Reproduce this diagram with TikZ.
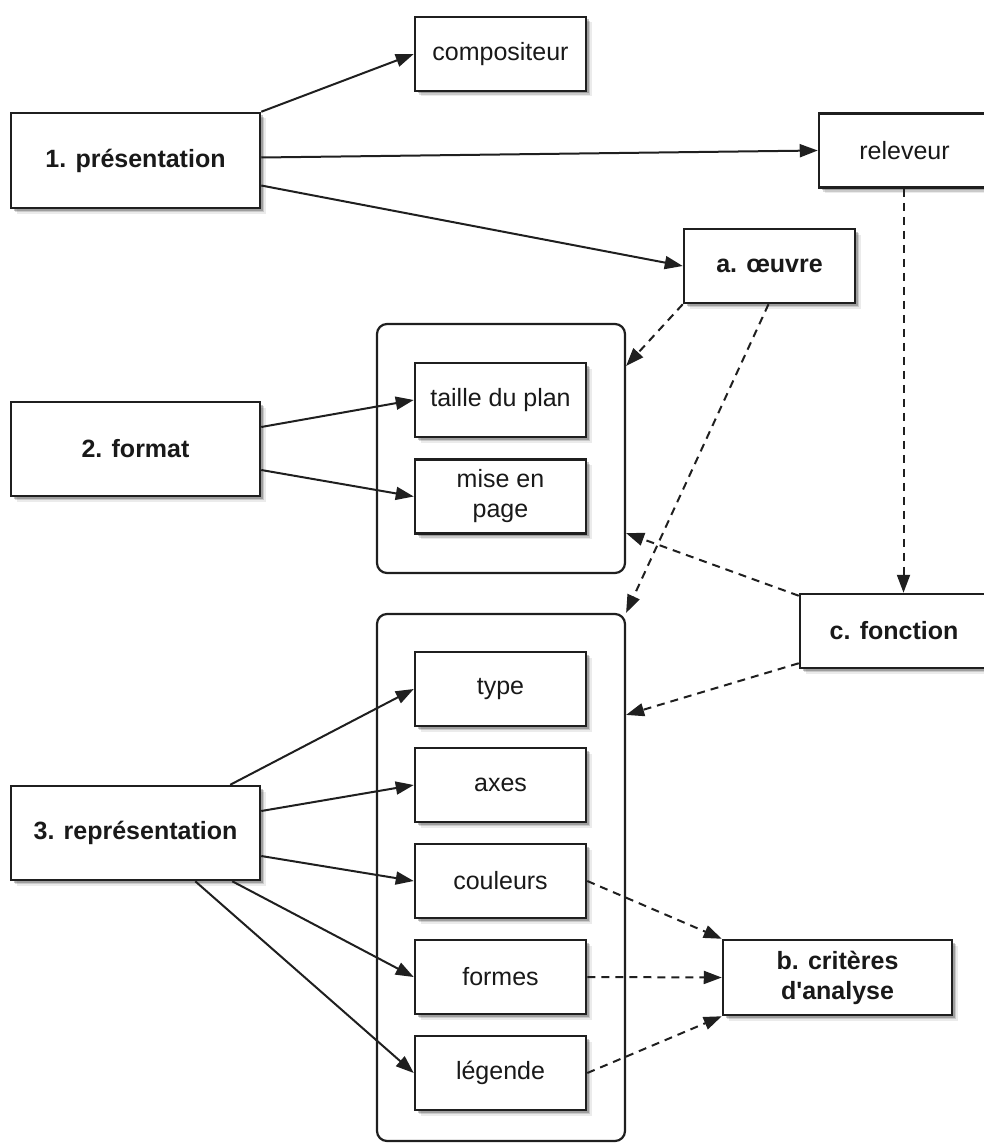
\documentclass[tikz,border=0pt]{standalone}
\usepackage{fontspec}
\setmainfont{Liberation Sans}
\usetikzlibrary{arrows.meta,shadows,calc}
\begin{document}
\begin{tikzpicture}[x=1pt,y=-1pt,
  font=\fontsize{25}{30}\selectfont,
  box/.style={draw=black!88, line width=2.5pt, fill=white, minimum width=171pt, minimum height=74pt,
    inner sep=0pt, align=center, text=black!90,
    drop shadow={shadow xshift=5.5pt, shadow yshift=-5.5pt, fill=black, opacity=0.08},
    drop shadow={shadow xshift=4pt, shadow yshift=-4pt, fill=black, opacity=0.14},
    drop shadow={shadow xshift=2.5pt, shadow yshift=-2.5pt, fill=black, opacity=0.22}},
  bbox/.style={box, font=\fontsize{25}{30}\selectfont\bfseries},
  group/.style={draw=black!88, line width=2.2pt, rounded corners=10pt, inner sep=0pt},
  arr/.style={draw=black!88, line width=2pt, -{Triangle[length=18pt,width=13pt]}},
  darr/.style={arr, dash pattern=on 8pt off 6pt},
]
\useasboundingbox (0,0) rectangle (984,1145);
\clip (0,0) rectangle (984,1145);

% groups
\node[group, minimum width=248pt, minimum height=249pt] (g1) at (501,448.5) {};
\node[group, minimum width=248pt, minimum height=527pt] (g2) at (501,877.5) {};

% nodes
\node[box] (compo) at (500.5,54) {compositeur};
\node[bbox, minimum width=249pt, minimum height=95pt] (pres) at (135.5,160.5) {1. présentation};
\node[box] (relev) at (904.5,150.5) {releveur};
\node[bbox] (oeuvre) at (769.5,266) {a. œuvre};
\node[box] (taille) at (500.5,400) {taille du plan};
\node[box] (mise) at (500.5,496.5) {mise en\\page};
\node[bbox, minimum width=249pt, minimum height=94pt] (format) at (135.5,449) {2. format};
\node[bbox, minimum width=188pt] (fonction) at (894,631) {c. fonction};
\node[box] (type) at (500.5,689) {type};
\node[box] (axes) at (500.5,785) {axes};
\node[box] (coul) at (500.5,881) {couleurs};
\node[box] (formes) at (500.5,977) {formes};
\node[box] (legende) at (500.5,1073) {légende};
\node[bbox, minimum width=249pt, minimum height=94pt] (repr) at (135.5,833) {3. représentation};
\node[bbox, minimum width=229pt, minimum height=75pt] (crit) at (837.5,977.5) {b. critères\\d\textquotesingle analyse};

% solid arrows
\draw[arr] (pres.north east) -- (compo.west);
\draw[arr] ([yshift=3pt]pres.east) -- (relev.west);
\draw[arr] ([yshift=-25pt]pres.east) -- (oeuvre.west);
\draw[arr] ([yshift=22pt]format.east) -- (taille.west);
\draw[arr] ([yshift=-21pt]format.east) -- (mise.west);
\draw[arr] ([xshift=-31pt]repr.north east) -- (type.west);
\draw[arr] ([yshift=22pt]repr.east) -- (axes.west);
\draw[arr] ([yshift=-23pt]repr.east) -- (coul.west);
\draw[arr] ([xshift=-29pt]repr.south east) -- (formes.west);
\draw[arr] ([xshift=-66pt]repr.south east) -- (legende.west);

% dashed arrows
\draw[darr] (oeuvre.south west) -- ([yshift=-43pt]g1.north east);
\draw[darr] ([xshift=-1pt]oeuvre.south) -- (g2.north east);
\draw[darr] ([xshift=-1pt]relev.south) -- ([xshift=-1pt]relev.south |- fonction.north);
\draw[darr] ([yshift=-3pt]fonction.north west) -- ([yshift=41pt]g1.south east);
\draw[darr] ([yshift=6pt]fonction.south west) -- ([yshift=-102pt]g2.north east);
\draw[darr] (coul.east) -- (crit.north west);
\draw[darr] (formes.east) -- (crit.west);
\draw[darr] (legende.east) -- (crit.south west);
\end{tikzpicture}
\end{document}
